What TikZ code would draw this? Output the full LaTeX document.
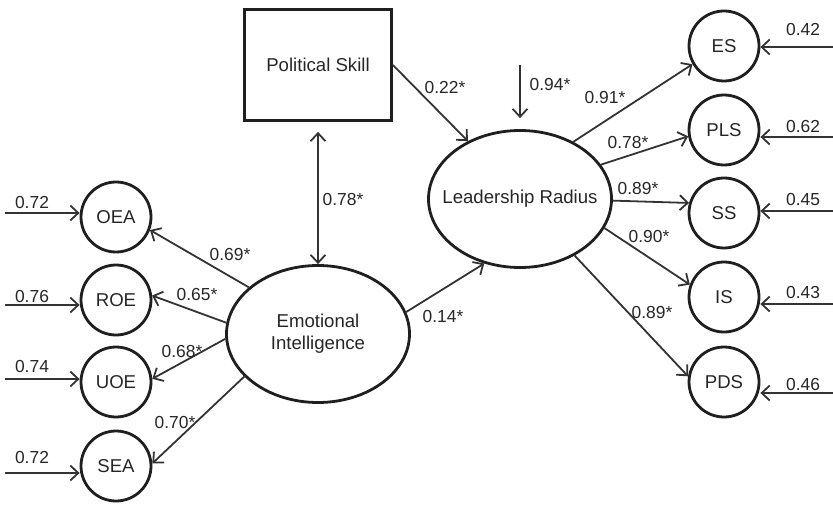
\documentclass[tikz,border=0pt]{standalone}
\usepackage{fontspec}
\setmainfont{Liberation Sans}
\usetikzlibrary{arrows.meta,shapes.geometric}
\begin{document}
\begin{tikzpicture}[x=0.5pt,y=-0.5pt,
  font=\fontsize{9.3pt}{11pt}\selectfont,
  every node/.append style={text=black!85},
  obs/.style={circle, draw=black!88, line width=1.4pt, minimum size=35pt, inner sep=0pt},
  lat/.style={ellipse, draw=black!88, line width=1.4pt, minimum width=91.5pt, minimum height=68.5pt, inner sep=0pt, align=center},
  box/.style={rectangle, draw=black!88, line width=1.4pt, minimum width=73.5pt, minimum height=55.5pt},
  conn/.style={draw=black!80, line width=0.9pt, -{Straight Barb[length=4pt,width=7.5pt]}},
  dbl/.style={draw=black!80, line width=0.9pt, {Straight Barb[length=4pt,width=7.5pt]}-{Straight Barb[length=4pt,width=7.5pt]}},
  lbl/.style={inner sep=0pt, font=\fontsize{8.7pt}{10pt}\selectfont}]
\useasboundingbox (0,0) rectangle (833,513);

% main constructs
\node[box] (PS) at (318,65) {Political Skill};
\node[lat] (EI) at (318,334) {Emotional\\Intelligence};
\node[lat, inner xsep=-9pt] (LR) at (520,199) {Leadership Radius};

% left indicators
\node[obs] (OEA) at (116,217) {OEA};
\node[obs] (ROE) at (116,300) {ROE};
\node[obs] (UOE) at (116,382) {UOE};
\node[obs] (SEA) at (116,466) {SEA};

% right indicators
\node[obs] (ES) at (724,46) {ES};
\node[obs] (PLS) at (724,130) {PLS};
\node[obs] (SS) at (724,213) {SS};
\node[obs] (IS) at (724,297) {IS};
\node[obs] (PDS) at (724,382) {PDS};

% structural paths
\draw[conn] (PS.east) -- (LR.132.6);
\draw[dbl, shorten <=5pt] (PS.south) -- (EI.north);
\draw[conn] (EI.14.6) -- (LR.241.8);
\coordinate (eLR) at (520,65);
\draw[conn, shorten >=5.5pt] (eLR) -- (LR.north);

% EI loadings
\draw[conn] (EI.146.5) -- (OEA.339);
\draw[conn] (EI.173.5) -- (ROE.7);
\draw[conn] (EI.183.7) -- (UOE.5.6);
\draw[conn] (EI.210.9) -- (SEA.4);

% LR loadings
\draw[conn] (LR.47) -- (ES.210.7);
\draw[conn] (LR.23.4) -- (PLS.190.7);
\draw[conn] (LR.-1.9) -- (SS.164);
\draw[conn] (LR.-19.7) -- (IS.160);
\draw[conn] (LR.-46.5) -- (PDS.171);

% left error terms
\coordinate (eOEA) at (5,213);
\coordinate (eROE) at (5,305);
\coordinate (eUOE) at (5,379);
\coordinate (eSEA) at (5,473);
\draw[conn] (eOEA) -- (eOEA -| OEA.west);
\draw[conn] (eROE) -- (eROE -| ROE.west);
\draw[conn] (eUOE) -- (eUOE -| UOE.west);
\draw[conn] (eSEA) -- (eSEA -| SEA.west);

% right error terms
\coordinate (eES) at (833,47);
\coordinate (ePLS) at (833,137);
\coordinate (eSS) at (833,211);
\coordinate (eIS) at (833,304);
\coordinate (ePDS) at (833,393);
\draw[conn] (eES) -- (eES -| ES.east);
\draw[conn] (ePLS) -- (ePLS -| PLS.east);
\draw[conn] (eSS) -- (eSS -| SS.east);
\draw[conn] (eIS) -- (eIS -| IS.east);
\draw[conn] (ePDS) -- (ePDS -| PDS.east);

% labels
\node[lbl] (l1) at (445,88) {0.22*};
\node[lbl] (l2) at (343,200) {0.78*};
\node[lbl] (l3) at (550,85) {0.94*};
\node[lbl] (l4) at (443,317) {0.14*};
\node[lbl] (l5) at (230,255) {0.69*};
\node[lbl] (l6) at (197,295) {0.65*};
\node[lbl] (l7) at (182,352) {0.68*};
\node[lbl] (l8) at (175,423) {0.70*};
\node[lbl] (l9) at (605,98) {0.91*};
\node[lbl] (l10) at (628,143) {0.78*};
\node[lbl] (l11) at (638,189) {0.89*};
\node[lbl] (l12) at (649,237) {0.90*};
\node[lbl] (l13) at (652,313) {0.89*};

\node[lbl] (r1) at (32,203) {0.72};
\node[lbl] (r2) at (32,297) {0.76};
\node[lbl] (r3) at (32,367) {0.74};
\node[lbl] (r4) at (32,458) {0.72};

\node[lbl] (r5) at (803,30) {0.42};
\node[lbl] (r6) at (803,127) {0.62};
\node[lbl] (r7) at (803,200) {0.45};
\node[lbl] (r8) at (803,293) {0.43};
\node[lbl] (r9) at (803,385) {0.46};
\end{tikzpicture}
\end{document}
